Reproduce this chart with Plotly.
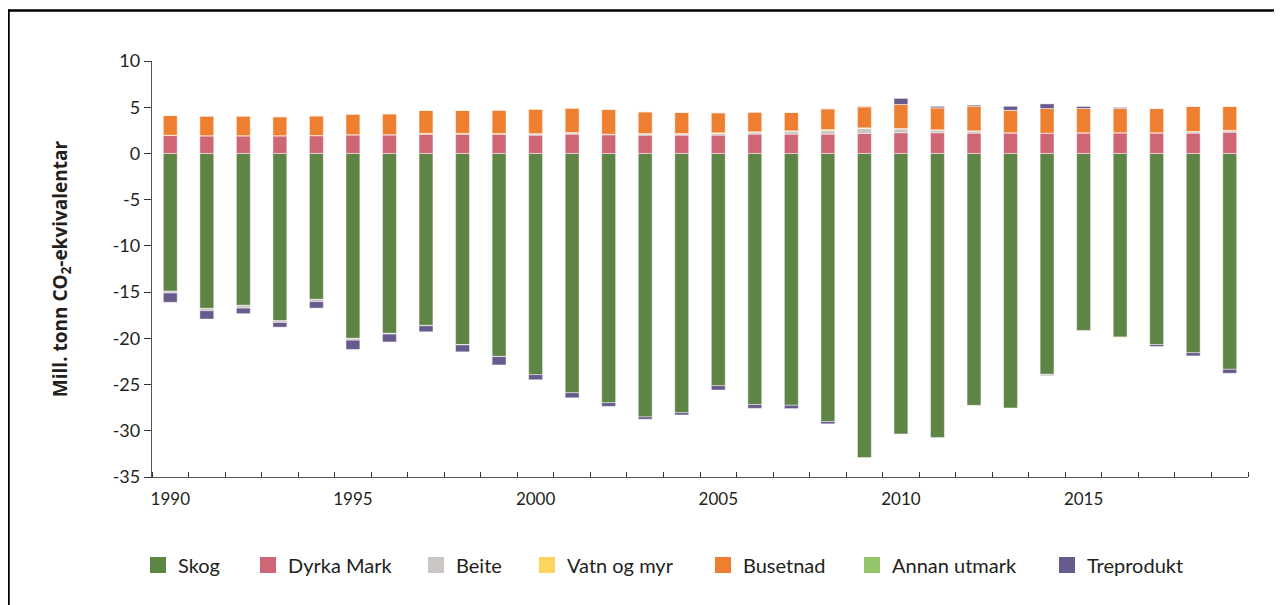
import plotly.graph_objects as go

years = list(range(1990, 2020))

skog = [-14.9, -16.76, -16.43, -18.09, -15.78, -20.0, -19.46, -18.59, -20.68, -21.95,
        -23.93, -25.88, -26.96, -28.5, -28.04, -25.12, -27.17, -27.24, -29.0, -32.9,
        -30.34, -30.74, -27.24, -27.53, -23.89, -19.14, -19.86, -20.68, -21.55, -23.35]
dyrka_mark = [1.95, 1.9, 1.9, 1.9, 1.92, 2.0, 2.0, 2.08, 2.08, 2.08,
              1.98, 2.09, 2.02, 1.98, 1.98, 1.98, 2.09, 2.09, 2.09, 2.16,
              2.24, 2.24, 2.2, 2.22, 2.2, 2.22, 2.22, 2.22, 2.2, 2.3]
beite = [-0.2, -0.25, -0.3, -0.2, -0.25, -0.2, -0.08, -0.05, -0.03, -0.03,
         0.12, 0.12, 0.04, 0.12, 0.12, 0.18, 0.2, 0.32, 0.38, 0.55,
         0.4, 0.28, 0.22, 0.02, -0.18, 0.02, 0.02, 0.02, 0.15, 0.15]
vatn_og_myr = [0.03, 0.02, 0.02, 0.02, 0.02, 0.03, 0.03, 0.1, 0.1, 0.08,
               0.05, 0.06, 0.02, 0.06, 0.06, 0.08, 0.05, 0.04, 0.12, 0.06,
               0.06, 0.04, 0.03, 0.0, 0.0, 0.0, -0.05, 0.0, 0.03, 0.05]
busetnad = [2.12, 2.12, 2.12, 2.05, 2.12, 2.22, 2.25, 2.47, 2.47, 2.52,
            2.64, 2.63, 2.68, 2.34, 2.27, 2.16, 2.13, 1.98, 2.24, 2.28,
            2.6, 2.38, 2.63, 2.43, 2.66, 2.62, 2.62, 2.62, 2.7, 2.58]
annan_utmark = [0.0] * 30
treprodukt = [-1.0, -0.9, -0.6, -0.5, -0.7, -1.0, -0.85, -0.65, -0.75, -0.9,
              -0.55, -0.55, -0.4, -0.25, -0.25, -0.47, -0.4, -0.36, -0.25, 0.05,
              0.65, 0.15, 0.14, 0.43, 0.5, 0.22, 0.11, -0.2, -0.35, -0.43]

series_names = ["Skog", "Dyrka Mark", "Beite", "Vatn og myr", "Busetnad", "Annan utmark", "Treprodukt"]
series_values = [skog, dyrka_mark, beite, vatn_og_myr, busetnad, annan_utmark, treprodukt]
colors = ["#5f8546", "#cf6675", "#cbc6c4", "#fcd55f", "#ee7f31", "#93c56b", "#675a8c"]

x_tick_vals = [1990, 1995, 2000, 2005, 2010, 2015]
x_tick_text = ["1990", "1995", "2000", "2005", "2010", "2015"]
y_tick_vals = [10, 5, 0, -5, -10, -15, -20, -25, -30, -35]
y_tick_text = ["10", "5", "0", "-5", "-10", "-15", "-20", "-25", "-30", "-35"]

# page offset (browser body margin) and plot-area geometry in window pixels
OFF = 8
L, R, T, B = 152, 1248, 61, 477
W, H = 1282 - OFF, 605 - OFF
pw, ph = R - L, B - T

def px_x(px):
    return (px - L) / pw

def px_y(py):
    return (B - py) / ph

legend_swatch_px = [158, 268, 436, 547, 723, 872, 1067]
legend_y_px = 565

fig = go.Figure()
for name, vals, col in zip(series_names, series_values, colors):
    fig.add_trace(go.Bar(
        x=years, y=vals, name=name, showlegend=False,
        marker=dict(color=col, line=dict(color="rgba(255,255,255,0.55)", width=0.8)),
    ))

# legend entries (square swatches)
for i, (name, col) in enumerate(zip(series_names, colors)):
    lg = "legend" if i == 0 else f"legend{i+1}"
    fig.add_trace(go.Scatter(
        x=[None], y=[None], mode="markers", name=name, legend=lg, showlegend=True,
        marker=dict(symbol="square", size=16, color=col, line=dict(width=0)),
        hoverinfo="skip",
    ))

text_col = "#231f20"
font_family = "Lato, 'Open Sans', sans-serif"

layout_legends = {}
for i, sx in enumerate(legend_swatch_px):
    key = "legend" if i == 0 else f"legend{i+1}"
    layout_legends[key] = dict(
        x=px_x(sx - 20), y=px_y(legend_y_px), xanchor="left", yanchor="middle",
        orientation="h", font=dict(size=20, color=text_col, family=font_family),
        bgcolor="rgba(0,0,0,0)", borderwidth=0, itemclick=False, itemsizing="trace",
    )

fig.update_layout(
    width=W, height=H,
    margin=dict(l=L - OFF, r=(W + OFF) - R, t=T - OFF, b=(H + OFF) - B, autoexpand=False),
    paper_bgcolor="white", plot_bgcolor="white",
    barmode="relative", bargap=0.62,
    font=dict(family=font_family, color=text_col, size=17),
    showlegend=True,
    **layout_legends,
    xaxis=dict(
        range=[1989.5, 2019.5], tickmode="array", tickvals=x_tick_vals, ticktext=x_tick_text,
        ticks="", showgrid=False, zeroline=False, showline=True, linecolor="#555555", linewidth=1.3,
        tickfont=dict(size=17, color=text_col),
        minor=dict(tickmode="linear", tick0=1989.5, dtick=1, ticks="inside", ticklen=5,
                   tickcolor="#333333", tickwidth=1.2, showgrid=False),
        ticklabelstandoff=6,
    ),
    yaxis=dict(
        range=[-35, 10], tickmode="array", tickvals=y_tick_vals, ticktext=y_tick_text,
        ticks="outside", ticklen=7, tickcolor="#333333", tickwidth=1.2,
        showgrid=False, zeroline=False, showline=True, linecolor="#555555", linewidth=1.3,
        tickfont=dict(size=18, color=text_col),
        title=dict(text="<b>Mill. tonn CO<sub>2</sub>-ekvivalentar</b>",
                   font=dict(size=19, color=text_col, family="'Open Sans', sans-serif"), standoff=40),
    ),
    shapes=[
        dict(type="line", xref="paper", yref="paper", x0=px_x(8.5), x1=px_x(1300),
             y0=px_y(10.5), y1=px_y(10.5), line=dict(color="black", width=2.5)),
        dict(type="line", xref="paper", yref="paper", x0=px_x(8.5), x1=px_x(8.5),
             y0=px_y(9.3), y1=px_y(640), line=dict(color="black", width=2.5)),
    ],
)

fig.write_html("out.html")
